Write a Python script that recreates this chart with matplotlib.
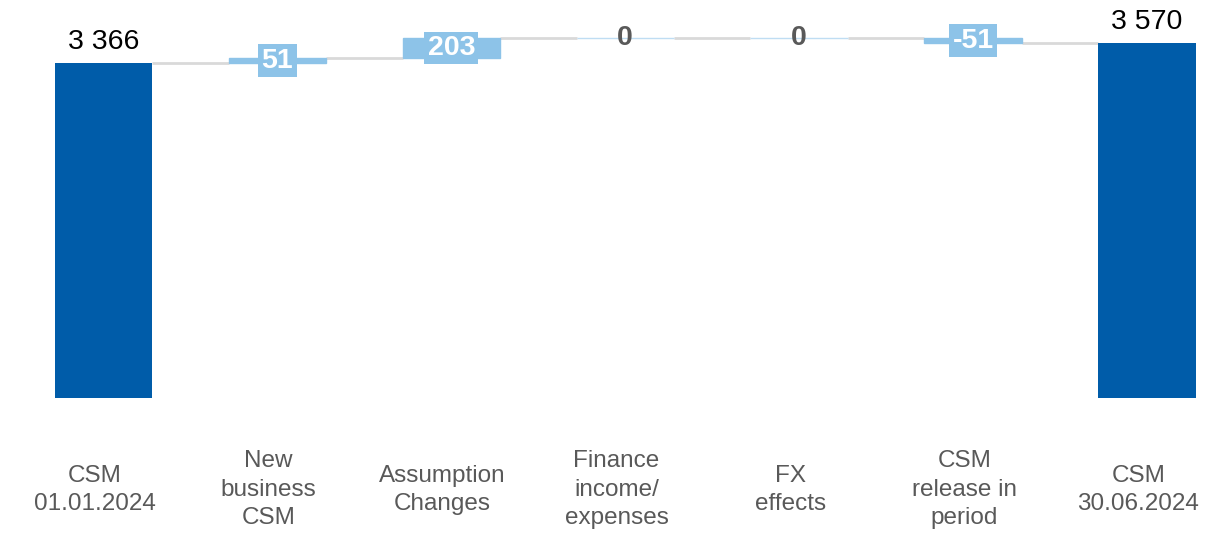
import matplotlib.pyplot as plt

plt.rcParams['font.family'] = ['Liberation Sans', 'DejaVu Sans']

# data
categories = ["CSM\n01.01.2024", "New\nbusiness\nCSM", "Assumption\nChanges",
              "Finance\nincome/\nexpenses", "FX\neffects", "CSM\nrelease in\nperiod",
              "CSM\n30.06.2024"]
start_value = 3366
deltas = [51, 203, 0, 0, -51]
end_value = 3570

dark_blue = '#005CA9'
light_blue = '#8DC3E8'
grey_line = '#D9D9D9'
text_grey = '#595959'
width = 0.56

fig = plt.figure(figsize=(12.09, 5.34), dpi=100)
ax = fig.add_axes([0, 0.2547, 1, 0.7453])

# totals
ax.bar(0, start_value, width=width, color=dark_blue, zorder=2)
ax.bar(len(categories) - 1, end_value, width=width, color=dark_blue, zorder=2)
ax.text(0, start_value + 85, f"{start_value:,}".replace(",", " "), ha='center', va='bottom',
        fontsize=20.5, color='black')
ax.text(len(categories) - 1, end_value + 85, f"{end_value:,}".replace(",", " "), ha='center',
        va='bottom', fontsize=20.5, color='black')

# running levels
levels = [start_value]
for d in deltas:
    levels.append(levels[-1] + d)

for i, d in enumerate(deltas):
    x = i + 1
    base = levels[i]
    ax.bar(x, d, bottom=base, width=width, color=light_blue, zorder=2,
           edgecolor='#BFDDF3' if d == 0 else light_blue, linewidth=1)
    mid = base + d / 2
    if d == 0:
        ax.text(x, mid, f"{d}", ha='center', va='center', fontsize=20.5,
                fontweight='bold', color=text_grey, zorder=4)
    else:
        ax.text(x, mid, f"{d}", ha='center', va='center', fontsize=20.5,
                fontweight='bold', color='white', zorder=4,
                bbox=dict(boxstyle='square,pad=0.12', fc=light_blue, ec='none'))

# connector lines
for i in range(len(categories) - 1):
    lvl = levels[i] if i < len(levels) else levels[-1]
    ax.plot([i + width / 2, i + 1 - width / 2], [lvl, lvl], color=grey_line,
            lw=2, zorder=1, solid_capstyle='butt')

# category labels
for i, c in enumerate(categories):
    ax.text(i - 0.05, -0.231, c, transform=ax.get_xaxis_transform(), ha='center',
            va='center', fontsize=17.5, color=text_grey, linespacing=1.38)

ax.set_xlim(-0.595, 6.357)
ax.set_ylim(0, 4002)
ax.axis('off')

fig.savefig('out.png', dpi=100)
